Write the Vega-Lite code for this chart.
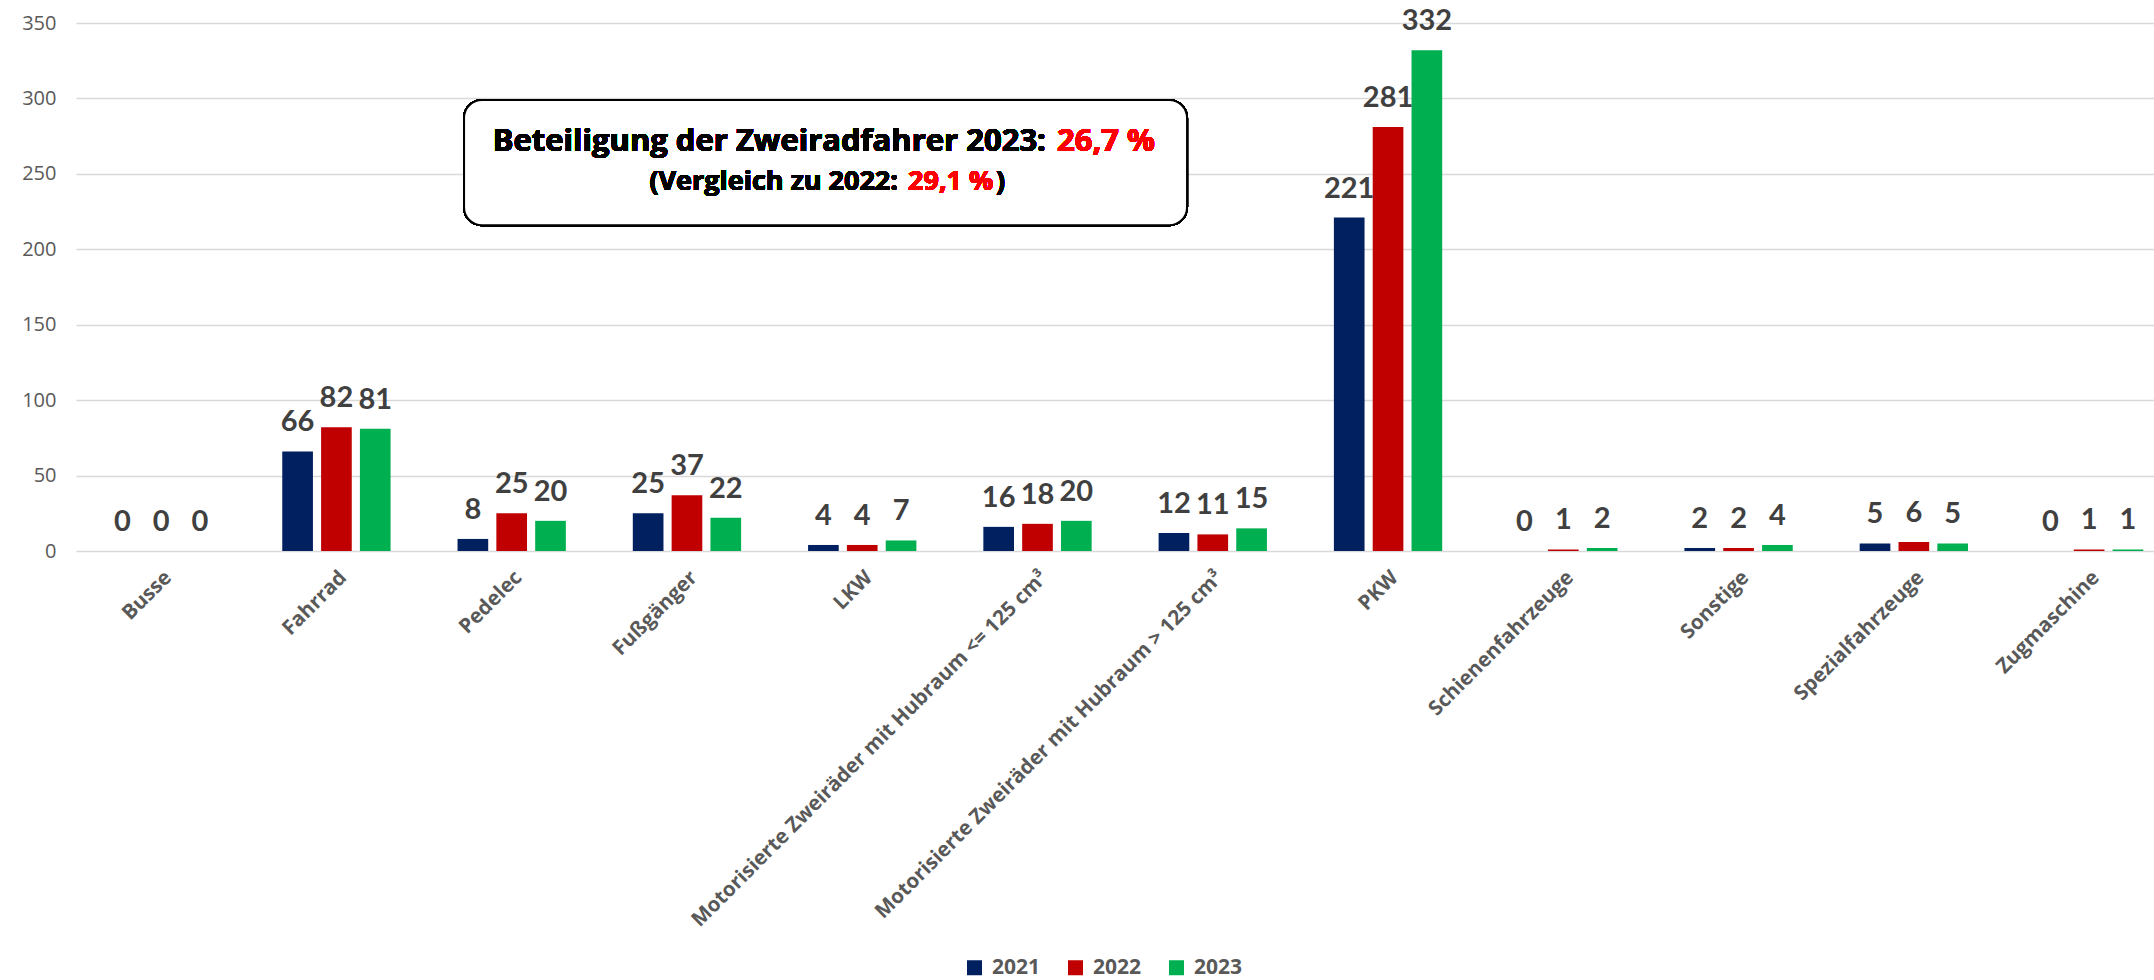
{
  "$schema": "https://vega.github.io/schema/vega-lite/v6.json",
  "width": 2078,
  "height": 528,
  "autosize": {"type": "none"},
  "padding": {"left": 76, "top": 23, "right": 0, "bottom": 429},
  "background": "white",
  "config": {"view": {"stroke": null}},
  "data": {
    "values": [
      {"kategorie": "Busse", "jahr": "2021", "anzahl": 0},
      {"kategorie": "Busse", "jahr": "2022", "anzahl": 0},
      {"kategorie": "Busse", "jahr": "2023", "anzahl": 0},
      {"kategorie": "Fahrrad", "jahr": "2021", "anzahl": 66},
      {"kategorie": "Fahrrad", "jahr": "2022", "anzahl": 82},
      {"kategorie": "Fahrrad", "jahr": "2023", "anzahl": 81},
      {"kategorie": "Pedelec", "jahr": "2021", "anzahl": 8},
      {"kategorie": "Pedelec", "jahr": "2022", "anzahl": 25},
      {"kategorie": "Pedelec", "jahr": "2023", "anzahl": 20},
      {"kategorie": "Fußgänger", "jahr": "2021", "anzahl": 25},
      {"kategorie": "Fußgänger", "jahr": "2022", "anzahl": 37},
      {"kategorie": "Fußgänger", "jahr": "2023", "anzahl": 22},
      {"kategorie": "LKW", "jahr": "2021", "anzahl": 4},
      {"kategorie": "LKW", "jahr": "2022", "anzahl": 4},
      {"kategorie": "LKW", "jahr": "2023", "anzahl": 7},
      {"kategorie": "Motorisierte Zweiräder mit Hubraum <= 125 cm³", "jahr": "2021", "anzahl": 16},
      {"kategorie": "Motorisierte Zweiräder mit Hubraum <= 125 cm³", "jahr": "2022", "anzahl": 18},
      {"kategorie": "Motorisierte Zweiräder mit Hubraum <= 125 cm³", "jahr": "2023", "anzahl": 20},
      {"kategorie": "Motorisierte Zweiräder mit Hubraum > 125 cm³", "jahr": "2021", "anzahl": 12},
      {"kategorie": "Motorisierte Zweiräder mit Hubraum > 125 cm³", "jahr": "2022", "anzahl": 11},
      {"kategorie": "Motorisierte Zweiräder mit Hubraum > 125 cm³", "jahr": "2023", "anzahl": 15},
      {"kategorie": "PKW", "jahr": "2021", "anzahl": 221},
      {"kategorie": "PKW", "jahr": "2022", "anzahl": 281},
      {"kategorie": "PKW", "jahr": "2023", "anzahl": 332},
      {"kategorie": "Schienenfahrzeuge", "jahr": "2021", "anzahl": 0},
      {"kategorie": "Schienenfahrzeuge", "jahr": "2022", "anzahl": 1},
      {"kategorie": "Schienenfahrzeuge", "jahr": "2023", "anzahl": 2},
      {"kategorie": "Sonstige", "jahr": "2021", "anzahl": 2},
      {"kategorie": "Sonstige", "jahr": "2022", "anzahl": 2},
      {"kategorie": "Sonstige", "jahr": "2023", "anzahl": 4},
      {"kategorie": "Spezialfahrzeuge", "jahr": "2021", "anzahl": 5},
      {"kategorie": "Spezialfahrzeuge", "jahr": "2022", "anzahl": 6},
      {"kategorie": "Spezialfahrzeuge", "jahr": "2023", "anzahl": 5},
      {"kategorie": "Zugmaschine", "jahr": "2021", "anzahl": 0},
      {"kategorie": "Zugmaschine", "jahr": "2022", "anzahl": 1},
      {"kategorie": "Zugmaschine", "jahr": "2023", "anzahl": 1}
    ]
  },
  "resolve": {"scale": {"x": "independent"}},
  "layer": [
    {
      "encoding": {
        "x": {
          "field": "kategorie",
          "type": "nominal",
          "sort": null,
          "scale": {"type": "band", "paddingInner": 0.382, "paddingOuter": 0.119, "align": 0.743},
          "axis": {
            "title": null,
            "labelAngle": -45,
            "labelAlign": "right",
            "labelBaseline": "top",
            "labelPadding": 16,
            "labelFont": "Open Sans",
            "labelFontWeight": "bold",
            "labelFontSize": 20.5,
            "labelColor": "#595959",
            "labelLimit": 1000,
            "labelOverlap": false,
            "ticks": false,
            "domain": false,
            "grid": false
          }
        },
        "xOffset": {"field": "jahr", "type": "nominal", "scale": {"paddingInner": 0.21, "paddingOuter": 0}},
        "y": {
          "field": "anzahl",
          "type": "quantitative",
          "scale": {"domain": [0, 350], "nice": false},
          "axis": {
            "title": null,
            "values": [0, 50, 100, 150, 200, 250, 300, 350],
            "labelFont": "Open Sans",
            "labelFontSize": 20,
            "labelColor": "#595959",
            "labelPadding": 20,
            "ticks": false,
            "domain": false,
            "gridColor": "#d9d9d9",
            "gridWidth": 1.5
          }
        }
      },
      "layer": [
        {
          "mark": {"type": "bar"},
          "encoding": {
            "color": {
              "field": "jahr",
              "type": "nominal",
              "scale": {"domain": ["2021", "2022", "2023"], "range": ["#002060", "#C00000", "#00B050"]},
              "legend": {
                "title": null,
                "orient": "none",
                "direction": "horizontal",
                "legendX": 888,
                "legendY": 934,
                "symbolType": "square",
                "symbolSize": 225,
                "symbolStrokeWidth": 0,
                "labelFont": "Open Sans",
                "labelFontWeight": "bold",
                "labelFontSize": 21,
                "labelColor": "#595959",
                "labelOffset": 7,
                "columnPadding": 24
              }
            }
          }
        },
        {
          "mark": {"type": "text", "baseline": "alphabetic", "dy": -20, "font": "Lato", "fontWeight": "bold", "fontSize": 29, "color": "#404040"},
          "encoding": {"text": {"field": "anzahl", "type": "quantitative"}}
        }
      ]
    },
    {
      "encoding": {
        "x": {"datum": 1.729, "type": "quantitative", "scale": {"domain": [-0.485, 11.371], "nice": false, "zero": false}, "axis": null}
      },
      "layer": [
        {
          "mark": {"type": "rect", "fill": "white", "stroke": "black", "strokeWidth": 2, "cornerRadius": 18},
          "encoding": {
            "x": {"datum": 1.729, "type": "quantitative"},
            "x2": {"datum": 5.854},
            "y": {"datum": 299, "type": "quantitative"},
            "y2": {"datum": 216}
          }
        },
        {
          "mark": {"type": "text", "text": "Beteiligung der Zweiradfahrer 2023:", "align": "right", "baseline": "alphabetic", "font": "Open Sans", "fontWeight": "bold", "fontSize": 31, "color": "black"},
          "encoding": {"x": {"datum": 5.049, "type": "quantitative"}, "y": {"datum": 265.3, "type": "quantitative"}}
        },
        {
          "mark": {"type": "text", "text": "26,7 %", "align": "left", "baseline": "alphabetic", "font": "Open Sans", "fontWeight": "bold", "fontSize": 31, "color": "#FF0000"},
          "encoding": {"x": {"datum": 5.112, "type": "quantitative"}, "y": {"datum": 265.3, "type": "quantitative"}}
        },
        {
          "mark": {"type": "text", "text": "(Vergleich zu 2022:", "align": "right", "baseline": "alphabetic", "font": "Open Sans", "fontWeight": "bold", "fontSize": 27, "color": "black"},
          "encoding": {"x": {"datum": 4.205, "type": "quantitative"}, "y": {"datum": 239.3, "type": "quantitative"}}
        },
        {
          "mark": {"type": "text", "text": "29,1 %", "align": "left", "baseline": "alphabetic", "font": "Open Sans", "fontWeight": "bold", "fontSize": 27, "color": "#FF0000"},
          "encoding": {"x": {"datum": 4.262, "type": "quantitative"}, "y": {"datum": 239.3, "type": "quantitative"}}
        },
        {
          "mark": {"type": "text", "text": ")", "align": "left", "baseline": "alphabetic", "font": "Open Sans", "fontWeight": "bold", "fontSize": 27, "color": "black"},
          "encoding": {"x": {"datum": 4.764, "type": "quantitative"}, "y": {"datum": 239.3, "type": "quantitative"}}
        }
      ]
    }
  ]
}
